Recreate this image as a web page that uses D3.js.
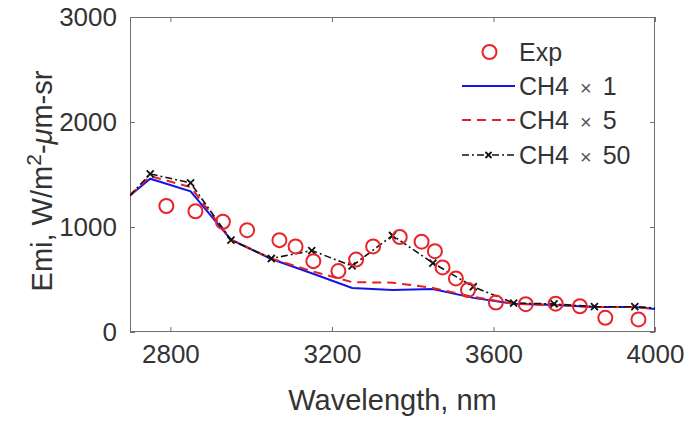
<!DOCTYPE html>
<html>
<head>
<meta charset="utf-8">
<script src="https://cdn.jsdelivr.net/npm/d3@7/dist/d3.min.js"></script>
<style>
  html, body { margin: 0; padding: 0; background: #fff; }
  svg { display: block; font-family: "Liberation Sans", Arial, Helvetica, sans-serif; }
</style>
</head>
<body>
<svg id="chart" width="690" height="423"></svg>
<script>
// Measured emission spectrum
const expWavelength = [2790, 2862, 2930, 2990, 3070, 3110, 3154, 3216, 3260, 3302, 3368,
                       3422, 3455, 3474, 3507, 3537, 3606, 3680, 3754, 3814, 3877, 3959];
const expEmi = [1200, 1150, 1050, 970, 875, 815, 675, 580, 690, 815, 905,
                860, 770, 615, 510, 400, 280, 265, 270, 245, 135, 120];

// Modelled spectra for three CH4 concentration multipliers
const modelWavelength = [2700, 2750, 2850, 2950, 3050, 3150, 3250, 3350, 3450, 3550, 3650, 3750, 3850, 3950, 4000];
const ch4x1  = [1300, 1460, 1340, 880, 695, 560, 420, 400, 410, 325, 268, 258, 238, 238, 220];
const ch4x5  = [1300, 1485, 1380, 880, 700, 580, 475, 470, 420, 335, 268, 258, 238, 238, 220];
const ch4x50 = [1300, 1505, 1420, 876, 700, 776, 629, 919, 657, 431, 276, 267, 241, 241, 229];

const xTicks = [2800, 3200, 3600, 4000];
const yTicks = [0, 1000, 2000, 3000];
const legendNames = ["Exp", "CH4", "CH4", "CH4"];
const legendFactors = [null, "1", "5", "50"];

const svg = d3.select("#chart");
const plotL = 130, plotR = 655, plotT = 17, plotB = 332;
const x = d3.scaleLinear().domain([2700, 4000]).range([plotL, plotR]);
const y = d3.scaleLinear().domain([0, 3000]).range([plotB, plotT]);

const textColor = "#333333";
const axisColor = "#707070";

svg.append("defs").append("clipPath").attr("id", "plotClip")
  .append("rect").attr("x", plotL).attr("y", plotT)
  .attr("width", plotR - plotL).attr("height", plotB - plotT);

// Axes with inward ticks
const tickLen = 5;
const gx = svg.append("g").attr("transform", `translate(0,${plotB})`)
  .call(d3.axisBottom(x).tickValues(xTicks).tickSizeInner(-tickLen).tickSizeOuter(0).tickPadding(13).tickFormat(d3.format("d")));
const gxTop = svg.append("g").attr("transform", `translate(0,${plotT})`)
  .call(d3.axisTop(x).tickValues(xTicks).tickSizeInner(-tickLen).tickSizeOuter(0).tickFormat(""));
const gy = svg.append("g").attr("transform", `translate(${plotL},0)`)
  .call(d3.axisLeft(y).tickValues(yTicks).tickSizeInner(-tickLen).tickSizeOuter(0).tickPadding(13).tickFormat(d3.format("d")));
const gyRight = svg.append("g").attr("transform", `translate(${plotR},0)`)
  .call(d3.axisRight(y).tickValues(yTicks).tickSizeInner(-tickLen).tickSizeOuter(0).tickFormat(""));

[gx, gxTop, gy, gyRight].forEach(g => {
  g.select(".domain").remove();
  g.selectAll(".tick line").attr("stroke", axisColor).attr("stroke-width", 1);
  g.selectAll(".tick text").attr("fill", textColor).attr("font-size", 26)
    .attr("font-family", "Liberation Sans, Arial, sans-serif");
});

svg.append("rect").attr("x", plotL + 0.5).attr("y", plotT + 0.5)
  .attr("width", plotR - plotL - 1).attr("height", plotB - plotT - 1)
  .attr("fill", "none").attr("stroke", axisColor).attr("stroke-width", 1);

// Axis titles
svg.append("text").attr("x", (plotL + plotR) / 2).attr("y", 410)
  .attr("text-anchor", "middle").attr("fill", textColor).attr("font-size", 29)
  .text("Wavelength, nm");

const yTitle = svg.append("text")
  .attr("transform", `translate(52,181) rotate(-90)`)
  .attr("text-anchor", "middle").attr("fill", textColor).attr("font-size", 29);
yTitle.append("tspan").text("Emi, W/m");
yTitle.append("tspan").attr("baseline-shift", "super").attr("font-size", 21).text("2");
yTitle.append("tspan").text("-");
yTitle.append("tspan").attr("font-style", "italic").text("\u03BC");
yTitle.append("tspan").text("m-sr");

// Model curves
const plot = svg.append("g").attr("clip-path", "url(#plotClip)");
const line = d3.line().x(d => x(d[0])).y(d => y(d[1]));
const pairs = vals => modelWavelength.map((w, i) => [w, vals[i]]);

plot.append("path").datum(pairs(ch4x1)).attr("d", line)
  .attr("fill", "none").attr("stroke", "#1414e6").attr("stroke-width", 2);
plot.append("path").datum(pairs(ch4x5)).attr("d", line)
  .attr("fill", "none").attr("stroke", "#e62020").attr("stroke-width", 2)
  .attr("stroke-dasharray", "9,6");
plot.append("path").datum(pairs(ch4x50)).attr("d", line)
  .attr("fill", "none").attr("stroke", "#111").attr("stroke-width", 1.6)
  .attr("stroke-dasharray", "7,3,2,3");

const xMark = (sel, s) => sel.append("path")
  .attr("d", `M${-s},${-s}L${s},${s}M${-s},${s}L${s},${-s}`)
  .attr("stroke", "#111").attr("stroke-width", 1.8).attr("fill", "none");

pairs(ch4x50).slice(1, -1).forEach(d => {
  const g = plot.append("g").attr("transform", `translate(${x(d[0])},${y(d[1])})`);
  xMark(g, 3.5);
});

// Measured points
plot.selectAll("circle.exp").data(expWavelength.map((w, i) => [w, expEmi[i]]))
  .enter().append("circle").attr("class", "exp")
  .attr("cx", d => x(d[0])).attr("cy", d => y(d[1])).attr("r", 7)
  .attr("fill", "none").attr("stroke", "#e8232a").attr("stroke-width", 2);

// Legend
const legend = svg.append("g");
const rowsY = [52, 86, 120, 155];
const sx0 = 462, sx1 = 515, tx = 519;
legend.append("circle").attr("cx", (sx0 + sx1) / 2 + 1).attr("cy", rowsY[0]).attr("r", 7)
  .attr("fill", "none").attr("stroke", "#e8232a").attr("stroke-width", 2);
legend.append("line").attr("x1", sx0).attr("x2", sx1).attr("y1", rowsY[1]).attr("y2", rowsY[1])
  .attr("stroke", "#1414e6").attr("stroke-width", 2);
legend.append("line").attr("x1", sx0).attr("x2", sx1).attr("y1", rowsY[2]).attr("y2", rowsY[2])
  .attr("stroke", "#e62020").attr("stroke-width", 2).attr("stroke-dasharray", "9,6");
legend.append("line").attr("x1", sx0).attr("x2", sx1).attr("y1", rowsY[3]).attr("y2", rowsY[3])
  .attr("stroke", "#111").attr("stroke-width", 1.6).attr("stroke-dasharray", "7,3,2,3");
xMark(legend.append("g").attr("transform", `translate(${(sx0 + sx1) / 2},${rowsY[3]})`), 3);

legendNames.forEach((name, i) => {
  const t = legend.append("text").attr("x", tx).attr("y", rowsY[i]).attr("dy", "0.36em")
    .attr("fill", textColor).attr("font-size", 25);
  t.append("tspan").text(name);
  if (legendFactors[i] !== null) {
    t.append("tspan").attr("dx", 11).attr("font-size", 20).attr("fill", "#555").text("\u00D7");
    t.append("tspan").attr("dx", 11).text(legendFactors[i]);
  }
});
</script>
</body>
</html>
